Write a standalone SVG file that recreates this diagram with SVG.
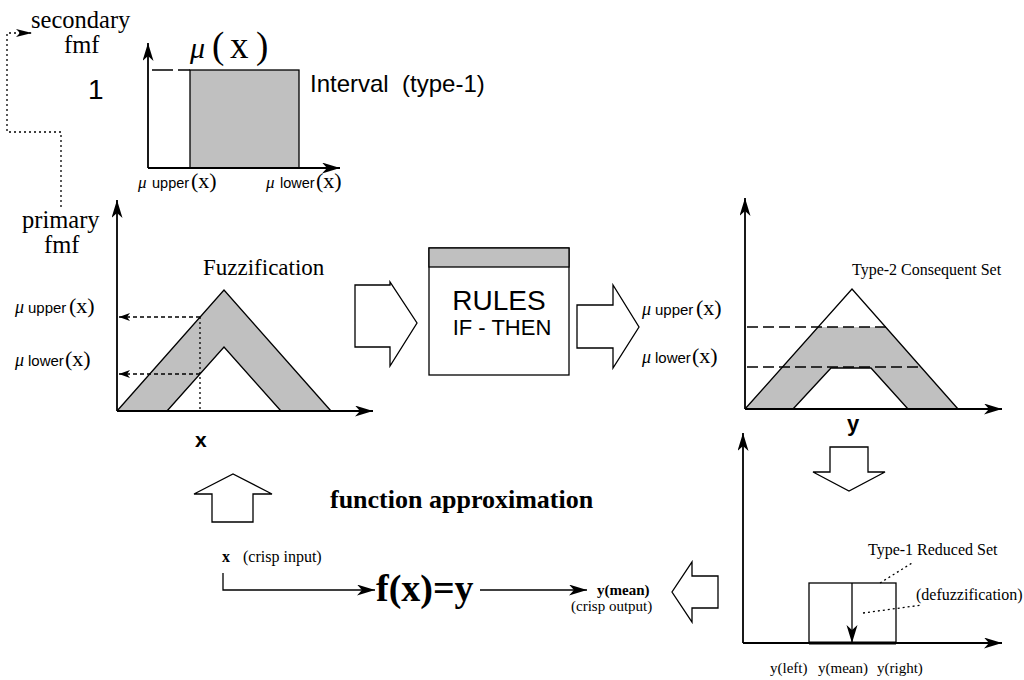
<svg xmlns="http://www.w3.org/2000/svg" width="1024" height="680" viewBox="0 0 1024 680">
<defs>
<style>
.ax{fill:none;stroke:#000;stroke-width:1.8}
.ln{fill:none;stroke:#000;stroke-width:1.3}
.gray{fill:#c0c0c0;stroke:none}
.blk{fill:#fff;stroke:#000;stroke-width:1.3}
.dot{fill:none;stroke:#000;stroke-width:1.3;stroke-dasharray:2,3}
.dsh{fill:none;stroke:#000;stroke-width:1.3;stroke-dasharray:4,3}
.lds{fill:none;stroke:#000;stroke-width:1.3;stroke-dasharray:11,5}
.serif{font-family:"Liberation Serif","Times New Roman",serif;fill:#000}
.sans{font-family:"Liberation Sans",Arial,sans-serif;fill:#000}
.mu{font-family:"Liberation Serif","Times New Roman",serif;font-style:italic;fill:#000}
</style>
<marker id="ah" markerUnits="userSpaceOnUse" markerWidth="19" markerHeight="12" refX="18" refY="5.5" orient="auto">
<path d="M0,0 L18,5.5 L0,11 L5,5.5 z" fill="#000"/>
</marker>
<marker id="ahs" markerUnits="userSpaceOnUse" markerWidth="12" markerHeight="8" refX="11" refY="4" orient="auto">
<path d="M0,0 L11,4 L0,8 L3,4 z" fill="#000"/>
</marker>
<marker id="ahl" markerUnits="userSpaceOnUse" markerWidth="17" markerHeight="9" refX="16" refY="4" orient="auto">
<path d="M0,0 L16,4 L0,8 L4,4 z" fill="#000"/>
</marker>
</defs>
<rect width="1024" height="680" fill="#fff"/>

<g id="connectors">
<path class="dot" d="M61,207 V132 H7 V33 H32" marker-end="url(#ahl)"/>
<polygon class="blk" points="355,285 390,285 390,282 417,323 390,366 390,347 355,347"/>
<polygon class="blk" points="577,305 613,305 613,285 639,327 613,368 613,348 577,348"/>
<polygon class="blk" points="830,447 868,447 868,472 885,472 849,491 813,472 830,472"/>
<polygon class="blk" points="718,576 692,576 692,562 672,592 692,622 692,608 718,608"/>
<polygon class="blk" points="212,522 212,494 194,494 233,474 272,494 253,494 253,522"/>
<path class="ln" d="M223,573 V590 H375" marker-end="url(#ah)"/>
<path class="ln" d="M480,590 H587" marker-end="url(#ah)"/>
</g>

<g id="labels-top">
<text class="serif" x="31" y="28" font-size="24.5">secondary</text>
<text class="serif" x="64" y="53" font-size="24.5">fmf</text>
<text class="serif" x="22" y="228" font-size="24.5">primary</text>
<text class="serif" x="44" y="253" font-size="24.5">fmf</text>
</g>

<g id="secondary-mf">
<rect class="gray" x="190" y="70" width="109" height="98"/>
<rect class="ln" x="190" y="70" width="109" height="98"/>
<path class="ln" d="M152,70 H190" stroke-dasharray="21,5"/>
<path class="ax" d="M148,168 V43" marker-end="url(#ah)"/>
<path class="ax" d="M148,168 H340" marker-end="url(#ah)"/>
<text class="sans" x="88" y="99" font-size="28">1</text>
<text class="mu" x="190" y="58" font-size="30">μ</text>
<text class="serif" y="58" font-size="37"><tspan x="212">(</tspan><tspan x="230">x</tspan><tspan x="256">)</tspan></text>
<text class="sans" x="310" y="92" font-size="24" xml:space="preserve">Interval  (type-1)</text>
<text x="138" y="188"><tspan class="mu" font-size="17">μ</tspan><tspan class="sans" x="152" font-size="14.5">upper</tspan><tspan class="serif" x="191" font-size="22">(x)</tspan></text>
<text x="266" y="188"><tspan class="mu" font-size="17">μ</tspan><tspan class="sans" x="280" font-size="14.5">lower</tspan><tspan class="serif" x="316" font-size="22">(x)</tspan></text>
</g>

<g id="fuzzification">
<polygon class="gray" points="117,411 224,290 331,411 281,411 224,347 167,411"/>
<polyline class="ln" points="117,411 224,290 331,411"/>
<polyline class="ln" points="167,411 224,347 281,411"/>
<path class="dot" d="M200,317 V411"/>
<path class="dsh" d="M200,317 H119" marker-end="url(#ahs)"/>
<path class="dsh" d="M200,374 H119" marker-end="url(#ahs)"/>
<path class="ax" d="M117,411 V200" marker-end="url(#ah)"/>
<path class="ax" d="M117,411 H373" marker-end="url(#ah)"/>
<text class="serif" x="203" y="275" font-size="23">Fuzzification</text>
<text x="15" y="313"><tspan class="mu" font-size="18">μ</tspan><tspan class="sans" x="28" font-size="15">upper</tspan><tspan class="serif" x="69" font-size="22">(x)</tspan></text>
<text x="15" y="366"><tspan class="mu" font-size="18">μ</tspan><tspan class="sans" x="28" font-size="15">lower</tspan><tspan class="serif" x="65" font-size="22">(x)</tspan></text>
<text class="sans" x="195" y="447" font-size="21" font-weight="bold">x</text>
</g>

<g id="rules">
<rect class="blk" x="429" y="248" width="140" height="127"/>
<rect x="429" y="248" width="140" height="19" fill="#c0c0c0" stroke="#000" stroke-width="1.3"/>
<text class="sans" x="499" y="310" font-size="28" text-anchor="middle">RULES</text>
<text class="sans" x="502" y="335" font-size="22" text-anchor="middle">IF - THEN</text>
</g>

<g id="consequent">
<polygon class="gray" points="745,409 818,327 886,327 958,409 908,409 871,368 831,368 793,409"/>
<polyline class="ln" points="745,409 852,289 958,409"/>
<polyline class="ln" points="793,409 831,368 871,368 908,409"/>
<path class="lds" d="M747,327 H886"/>
<path class="lds" d="M747,367 H922"/>
<path class="ax" d="M745,409 V198" marker-end="url(#ah)"/>
<path class="ax" d="M745,409 H1002" marker-end="url(#ah)"/>
<text class="serif" x="852" y="275" font-size="16">Type-2 Consequent Set</text>
<text x="642" y="315"><tspan class="mu" font-size="18">μ</tspan><tspan class="sans" x="655" font-size="15">upper</tspan><tspan class="serif" x="696" font-size="22">(x)</tspan></text>
<text x="642" y="363"><tspan class="mu" font-size="18">μ</tspan><tspan class="sans" x="655" font-size="15">lower</tspan><tspan class="serif" x="692" font-size="22">(x)</tspan></text>
<text class="sans" x="847" y="431" font-size="22" font-weight="bold">y</text>
</g>

<g id="reduced-set">
<rect class="ln" x="809" y="583" width="87" height="60"/>
<path class="ax" d="M743,643 V433" marker-end="url(#ah)"/>
<path class="ax" d="M743,643 H1002" marker-end="url(#ah)"/>
<path d="M809,643 H896" stroke="#000" stroke-width="3"/>
<path class="ln" d="M852,583 V643" stroke-width="1.8" marker-end="url(#ah)"/>
<path class="dot" d="M880,583 L912,563"/>
<path class="dot" d="M863,613 L922,605"/>
<text class="serif" x="868" y="555" font-size="16">Type-1 Reduced Set</text>
<text class="serif" x="916" y="600" font-size="16">(defuzzification)</text>
<text class="serif" x="770" y="673" font-size="15">y(left)</text>
<text class="serif" x="818" y="673" font-size="15">y(mean)</text>
<text class="serif" x="877" y="673" font-size="15">y(right)</text>
</g>

<g id="function">
<text class="serif" x="330" y="508" font-size="26" font-weight="bold">function approximation</text>
<text class="serif" x="222" y="562" font-size="16" font-weight="bold">x</text>
<text class="serif" x="243" y="562" font-size="16">(crisp input)</text>
<text class="serif" x="376" y="601" font-size="38" font-weight="bold">f(x)=y</text>
<text class="serif" x="597" y="595" font-size="15" font-weight="bold">y(mean)</text>
<text class="serif" x="571" y="611" font-size="15">(crisp output)</text>
</g>
</svg>
